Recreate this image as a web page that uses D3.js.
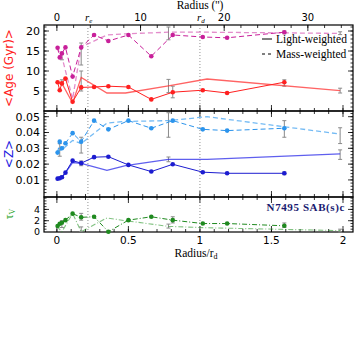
<!DOCTYPE html>
<html>
<head>
<meta charset="utf-8">
<script src="https://cdn.jsdelivr.net/npm/d3@7"></script>
<style>
  body { margin: 0; background: #fff; }
  svg text { font-family: "Liberation Serif", serif; }
</style>
</head>
<body>
<div class="chart"></div>
<script>
// radial profile, one point per annulus (Radius / r_d)
const radii = [0.005, 0.02, 0.035, 0.06, 0.11, 0.17, 0.26, 0.36, 0.50, 0.66, 0.81, 1.02, 1.19, 1.59]
const ageLW = [7.2, 5.2, 6.9, 8.1, 2.3, 5.9, 6.0, 6.2, 6.0, 2.9, 4.7, 5.2, 4.5, 7.2]
const ageMW = [15.8, 13.4, 14.4, 15.9, 8.6, 15.9, 19.0, 17.5, 19.0, 13.7, 19.0, 18.5, 18.3, 19.7]
const zLW = [0.0108, 0.0111, 0.0117, 0.0146, 0.0222, 0.0206, 0.0244, 0.0247, 0.0195, 0.0153, 0.0199, 0.0149, 0.0142, 0.0142]
const zMW = [0.0273, 0.0342, 0.030, 0.0332, 0.0396, 0.0342, 0.0475, 0.042, 0.0475, 0.0427, 0.0475, 0.042, 0.0412, 0.0427]
const tauV = [1.06, 1.45, 1.65, 2.1, 3.25, 2.6, 2.7, 0.05, 2.1, 2.7, 2.1, 1.5, 1.5, 1.1]

// binned profile (no markers)
const binR = [0.0, 0.035, 0.11, 0.17, 0.35, 0.48, 0.78, 1.05, 1.98]
const ageLWbin = [7.0, 6.9, 2.0, 8.4, 4.5, 4.5, 6.3, 8.0, 5.1]
const ageMWbin = [15.8, 13.6, 3.0, 16.0, 19.0, 19.3, 19.7, 19.7, 19.4]
const zLWbin = [0.011, 0.0115, 0.021, 0.0205, 0.016, 0.019, 0.023, 0.023, 0.0265]
const zMWbin = [0.028, 0.029, 0.035, 0.033, 0.046, 0.047, 0.0475, 0.050, 0.039]
const tauBin = [1.0, 0.05, 3.3, 0.05, 2.5, 2.0, 1.0, 0.75, 0.25]

// error bars: [radius, low, high]
const ageErr = [[0.035, 6.6, 7.8], [0.035, 12.8, 14.2], [0.17, 5.0, 10.0], [0.17, 11.5, 17.0],
  [0.78, 4.6, 7.9], [0.78, 17.8, 21.0], [0.81, 3.3, 6.2], [1.59, 6.2, 7.8], [1.59, 19.3, 20.0],
  [1.98, 4.5, 5.7], [1.98, 19.1, 19.8]]
const zErr = [[0.02, 0.025, 0.033], [0.035, 0.011, 0.0125], [0.17, 0.019, 0.022], [0.17, 0.027, 0.037],
  [0.78, 0.0215, 0.0245], [0.78, 0.037, 0.0525], [1.59, 0.037, 0.0475], [1.59, 0.0133, 0.015],
  [1.98, 0.023, 0.029], [1.98, 0.033, 0.043]]
const tauErr = [[0.035, 0.8, 2.0], [0.17, 2.1, 3.3], [0.17, 0.1, 0.9], [0.78, 0.7, 1.4],
  [0.81, 1.6, 2.7], [1.59, 0.8, 1.6], [1.98, 0.0, 0.5]]

const xTicks = [0, 0.5, 1, 1.5, 2]
const arcTicks = [0, 10, 20, 30]
const rEff = 0.217 // r_e / r_d
const rDisk = 17.1 // r_d in arcsec

const width = 357
const height = 357

const svg = d3.select(".chart").append("svg")
  .attr("width", width).attr("height", height)

const x = d3.scaleLinear().domain([-0.09, 2.07]).range([44, 353])
const xArc = d3.scaleLinear().domain(x.domain().map((d) => d * rDisk)).range(x.range())

const yAge = d3.scaleLinear().domain([0, 21.5]).range([111, 25])
const yZ = d3.scaleLinear().domain([-0.0008, 0.0536]).range([197, 111])
const yTau = d3.scaleLinear().domain([0, 6.2]).range([232, 197])

const panels = [
  { y: yAge, major: [5, 10, 15, 20], minor: d3.range(1, 22, 1), fmt: (d) => d, fs: 11 },
  { y: yZ, major: [0.01, 0.02, 0.03, 0.04, 0.05], minor: d3.range(0.002, 0.054, 0.002), fmt: (d) => d.toFixed(2), fs: 11 },
  { y: yTau, major: [0, 2, 4], minor: d3.range(0, 6.1, 0.5), fmt: (d) => d, fs: 9.5 },
]

const xMinor = d3.range(-0.0, 2.06, 0.1)
const arcMinor = d3.range(0, 36, 2)

// frames and ticks
panels.forEach((p, i) => {
  const [y0, y1] = p.y.range()
  const g = svg.append("g")
  g.append("rect")
    .attr("x", x.range()[0]).attr("y", y1)
    .attr("width", x.range()[1] - x.range()[0]).attr("height", y0 - y1)
    .attr("fill", "none").attr("stroke", "#000").attr("stroke-width", 1.2)

  // y ticks on both sides
  const yt = (vals, len) => {
    vals.filter((v) => p.y(v) > y1 + 0.5 && p.y(v) < y0 - 0.5).forEach((v) => {
      g.append("line").attr("x1", x.range()[0]).attr("x2", x.range()[0] + len)
        .attr("y1", p.y(v)).attr("y2", p.y(v)).attr("stroke", "#000").attr("stroke-width", 0.8)
      g.append("line").attr("x1", x.range()[1]).attr("x2", x.range()[1] - len)
        .attr("y1", p.y(v)).attr("y2", p.y(v)).attr("stroke", "#000").attr("stroke-width", 0.8)
    })
  }
  yt(p.minor, 2.5)
  yt(p.major, 5)
  g.selectAll(".ylab").data(p.major).join("text")
    .attr("x", x.range()[0] - 4).attr("y", (d) => p.y(d) + p.fs * 0.36)
    .attr("text-anchor", "end").attr("font-size", p.fs)
    .style("font-family", "DejaVu Sans, sans-serif")
    .text(p.fmt)

  // x ticks top and bottom of each panel
  const xt = (vals, len) => {
    vals.forEach((v) => {
      g.append("line").attr("x1", x(v)).attr("x2", x(v)).attr("y1", y0).attr("y2", y0 - len)
        .attr("stroke", "#000").attr("stroke-width", 0.8)
      if (i > 0) {
        g.append("line").attr("x1", x(v)).attr("x2", x(v)).attr("y1", y1).attr("y2", y1 + len)
          .attr("stroke", "#000").attr("stroke-width", 0.8)
      }
    })
  }
  xt(xMinor, 3)
  xt(xTicks, 6)
})

// top arcsec axis
arcMinor.forEach((v) => {
  svg.append("line").attr("x1", xArc(v)).attr("x2", xArc(v)).attr("y1", 25).attr("y2", 28)
    .attr("stroke", "#000").attr("stroke-width", 0.8)
})
arcTicks.forEach((v) => {
  svg.append("line").attr("x1", xArc(v)).attr("x2", xArc(v)).attr("y1", 25).attr("y2", 31)
    .attr("stroke", "#000").attr("stroke-width", 0.8)
})
svg.selectAll(".arclab").data(arcTicks).join("text")
  .attr("x", (d) => xArc(d)).attr("y", 21).attr("text-anchor", "middle")
  .attr("font-size", 10).style("font-family", "DejaVu Sans, sans-serif").text((d) => d)
svg.append("text").attr("x", 200).attr("y", 9).attr("text-anchor", "middle")
  .attr("font-size", 11.5).text("Radius ('')")

// r_e, r_d markers
;[[rEff, "e"], [1, "d"]].forEach(([r, s]) => {
  svg.append("line").attr("x1", x(r)).attr("x2", x(r)).attr("y1", 25).attr("y2", 232)
    .attr("stroke", "#777").attr("stroke-width", 0.8).attr("stroke-dasharray", "1,2")
  const t = svg.append("text").attr("x", x(r) - 3).attr("y", 21).attr("font-size", 11)
    .attr("font-style", "italic").text("r")
  t.append("tspan").attr("font-size", 7).attr("dy", 2).text(s)
})

// bottom axis labels
svg.selectAll(".xlab").data(xTicks).join("text")
  .attr("x", (d) => x(d)).attr("y", 244).attr("text-anchor", "middle")
  .attr("font-size", 10.5).style("font-family", "DejaVu Sans, sans-serif").text((d) => d)
const xl = svg.append("text").attr("x", 196).attr("y", 257).attr("text-anchor", "middle")
  .attr("font-size", 11.5).text("Radius/r")
xl.append("tspan").attr("font-size", 8).attr("dy", 2).text("d")

// y axis titles
svg.append("text").attr("transform", `translate(13,68) rotate(-90)`).attr("text-anchor", "middle")
  .attr("font-size", 12).attr("fill", "#ff2020").style("font-family", "DejaVu Sans, sans-serif")
  .text("<Age (Gyr)>")
svg.append("text").attr("transform", `translate(13,154) rotate(-90)`).attr("text-anchor", "middle")
  .attr("font-size", 12).attr("fill", "#2020e0").style("font-family", "DejaVu Sans, sans-serif")
  .text("<Z>")
const tl = svg.append("text").attr("transform", `translate(13,214) rotate(-90)`).attr("text-anchor", "middle")
  .attr("font-size", 12).attr("fill", "#22a022").text("τ")
tl.append("tspan").attr("font-size", 8).attr("dy", 2).text("V")

// error bars
const drawErr = (errs, y) => {
  const g = svg.append("g").attr("stroke", "#8a8a8a").attr("stroke-width", 1)
  errs.forEach(([r, lo, hi]) => {
    g.append("line").attr("x1", x(r)).attr("x2", x(r)).attr("y1", y(lo)).attr("y2", y(hi))
    g.append("line").attr("x1", x(r) - 2).attr("x2", x(r) + 2).attr("y1", y(lo)).attr("y2", y(lo))
    g.append("line").attr("x1", x(r) - 2).attr("x2", x(r) + 2).attr("y1", y(hi)).attr("y2", y(hi))
  })
}

const drawLine = (xs, ys, y, color, dash, opts = {}) => {
  const pts = xs.map((r, i) => [x(r), y(ys[i])])
  svg.append("path").attr("d", d3.line()(pts)).attr("fill", "none")
    .attr("stroke", color).attr("stroke-width", opts.w || 1)
    .attr("stroke-dasharray", dash).attr("opacity", opts.op || 1)
  if (opts.dots) {
    svg.append("g").selectAll("circle").data(pts).join("circle")
      .attr("cx", (d) => d[0]).attr("cy", (d) => d[1]).attr("r", 2.3).attr("fill", color)
  }
}

drawErr(ageErr, yAge)
drawErr(zErr, yZ)
drawErr(tauErr, yTau)

// binned lines (lighter)
drawLine(binR, ageLWbin, yAge, "#ff3030", null, { w: 1.3, op: 0.75 })
drawLine(binR, ageMWbin, yAge, "#d040a8", "5,3", { w: 1.3, op: 0.6 })
drawLine(binR, zLWbin, yZ, "#2a2ae8", null, { w: 1.3, op: 0.75 })
drawLine(binR, zMWbin, yZ, "#3a9ef0", "5,3", { w: 1.3, op: 0.7 })
drawLine(binR, tauBin, yTau, "#2e9a2e", "5,2,1,2", { w: 1.1, op: 0.6 })

// annulus lines with markers
drawLine(radii, ageLW, yAge, "#ff2020", null, { dots: true })
drawLine(radii, ageMW, yAge, "#c8209a", "5,3", { dots: true })
drawLine(radii, zLW, yZ, "#1c1cd0", null, { dots: true })
drawLine(radii, zMW, yZ, "#2c94ec", "5,3", { dots: true })
drawLine(radii, tauV, yTau, "#1f8a1f", "5,2,1,2", { dots: true })

// legend
const lg = svg.append("g")
lg.append("line").attr("x1", 262).attr("x2", 272).attr("y1", 39).attr("y2", 39).attr("stroke", "#000")
lg.append("text").attr("x", 276).attr("y", 43).attr("font-size", 11.5).text("Light-weighted")
lg.append("line").attr("x1", 262).attr("x2", 272).attr("y1", 54).attr("y2", 54).attr("stroke", "#000")
  .attr("stroke-dasharray", "3,3")
lg.append("text").attr("x", 276).attr("y", 58).attr("font-size", 11.5).text("Mass-weighted")

svg.append("text").attr("x", 345).attr("y", 211).attr("text-anchor", "end")
  .attr("font-size", 11).attr("font-weight", "bold").attr("fill", "#1a1a70")
  .attr("letter-spacing", 0.6)
  .text("N7495 SAB(s)c")
</script>
</body>
</html>
